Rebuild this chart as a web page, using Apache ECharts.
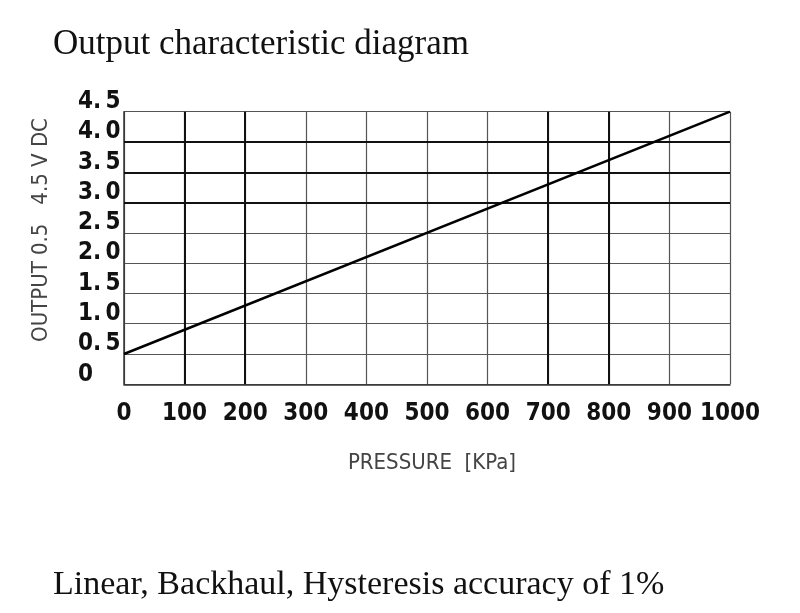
<!DOCTYPE html>
<html>
<head>
<meta charset="utf-8">
<script src="https://cdn.jsdelivr.net/npm/echarts@6/dist/echarts.min.js"></script>
<style>
html,body{margin:0;padding:0;background:#fff;}
#chart{width:800px;height:613px;}
</style>
</head>
<body>
<div id="chart"></div>
<script>
// Data
const pressure = [0, 1000];          // KPa
const output = [0.5, 4.5];           // V DC
const yTickValues = [0, 0.5, 1.0, 1.5, 2.0, 2.5, 3.0, 3.5, 4.0, 4.5];
const yTickLabels = ['0', '0.\u20095', '1.\u20090', '1.\u20095', '2.\u20090', '2.\u20095', '3.\u20090', '3.\u20095', '4.\u20090', '4.\u20095'];
const heavyX = [100, 200, 700, 800];
const heavyY = [3.0, 3.5, 4.0];
const titleText = 'Output characteristic diagram';
const noteText = 'Linear, Backhaul, Hysteresis accuracy of 1%';
const xName = 'PRESSURE  [KPa]';
const yName = 'OUTPUT 0.5   4.5 V DC';

const chart = echarts.init(document.getElementById('chart'), null, {renderer: 'canvas'});
const tickFont = {fontFamily: '"DejaVu Sans"', fontStyle: 'condensed', fontWeight: 'bold', fontSize: 24, color: '#111'};
const nameFont = {fontFamily: '"DejaVu Sans"', fontStyle: 'condensed', fontWeight: 'normal', fontSize: 22, color: '#444'};

const markData = heavyX.map(v => ({xAxis: v})).concat(heavyY.map(v => ({yAxis: v})));

chart.setOption({
  animation: false,
  backgroundColor: '#fff',
  title: [
    {text: titleText, left: 48, top: 22, textStyle: {fontFamily: '"Liberation Serif", serif', fontWeight: 'normal', fontSize: 35, color: '#111'}},
    {text: noteText, left: 48, top: 563, textStyle: {fontFamily: '"Liberation Serif", serif', fontWeight: 'normal', fontSize: 34, color: '#111'}}
  ],
  grid: {left: 124, right: 70, top: 111.7, bottom: 228.7, containLabel: false},
  xAxis: {
    type: 'value', min: 0, max: 1000, interval: 100,
    name: xName, nameLocation: 'middle', nameGap: 68,
    nameTextStyle: Object.assign({padding: [0, 0, 0, 10]}, nameFont),
    axisLine: {show: true, lineStyle: {color: '#333', width: 1.5}},
    axisTick: {show: false},
    axisLabel: Object.assign({margin: 17, formatter: v => String(v)}, tickFont),
    splitLine: {show: true, lineStyle: {color: '#555', width: 1.2}}
  },
  yAxis: {
    type: 'value', min: 0, max: 4.5, interval: 0.5,
    name: yName, nameLocation: 'middle', nameGap: 72, nameRotate: 90,
    nameTextStyle: Object.assign({padding: [0, 0, 0, 36]}, nameFont),
    axisLine: {show: true, lineStyle: {color: '#333', width: 1.5}},
    axisTick: {show: false},
    axisLabel: Object.assign({
      margin: 46, align: 'left', verticalAlign: 'bottom', lineHeight: 20,
      formatter: function (v) {
        const i = yTickValues.findIndex(t => Math.abs(t - v) < 1e-9);
        return i >= 0 ? yTickLabels[i] : '';
      }
    }, tickFont),
    splitLine: {show: true, lineStyle: {color: '#555', width: 1.2}}
  },
  series: [{
    type: 'line',
    data: pressure.map((p, i) => [p, output[i]]),
    symbol: 'none',
    lineStyle: {color: '#000', width: 2.5},
    z: 5,
    markLine: {
      silent: true, symbol: 'none', label: {show: false},
      lineStyle: {color: '#111', width: 2, type: 'solid'},
      data: markData
    }
  }]
});
</script>
</body>
</html>
